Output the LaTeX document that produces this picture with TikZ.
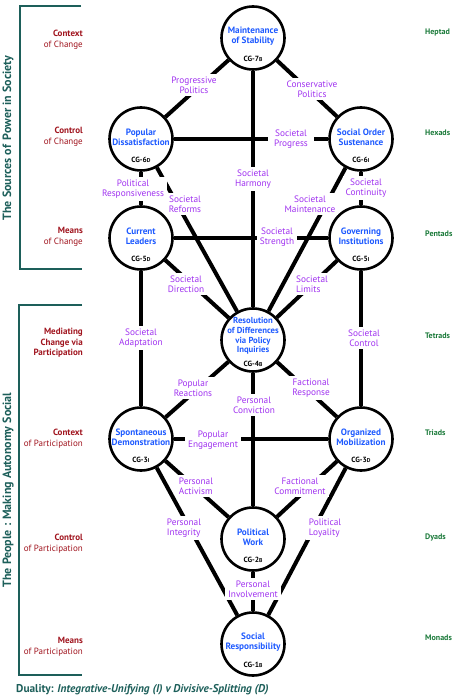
\documentclass[tikz,border=0pt]{standalone}
\usepackage{fontspec}
\setmainfont{PT Sans}
\usetikzlibrary{positioning,calc}
\definecolor{ttlblue}{RGB}{30,90,255}
\definecolor{labviolet}{RGB}{160,50,240}
\definecolor{lvlred}{RGB}{160,20,30}
\definecolor{lvlgreen}{RGB}{27,122,58}
\definecolor{brteal}{RGB}{29,95,90}
\newcommand{\cgtag}[2]{CG-#1{\fontsize{5.6}{6}\selectfont #2}}

\begin{document}
\begin{tikzpicture}[x=1pt,y=-1pt,
    cgcircle/.style={circle,draw,line width=2.6pt,minimum size=63pt,inner sep=0pt},
    ttl/.style={text=ttlblue,font=\bfseries\fontsize{9.2}{10}\selectfont,align=center,inner sep=0pt,yshift=2pt},
    cg/.style={font=\bfseries\fontsize{7.5}{8}\selectfont,inner sep=0pt,yshift=-21pt},
    edge/.style={line width=4pt},
    lab/.style={fill=white,text=labviolet,font=\fontsize{9.3}{9.8}\selectfont,align=center,inner sep=3pt},
    lvl/.style={anchor=east,text=lvlred,font=\fontsize{9}{11}\selectfont,align=right,inner sep=0pt},
    grp/.style={anchor=west,text=lvlgreen,font=\bfseries\fontsize{8}{9}\selectfont,inner sep=0pt},
    bracket/.style={draw=brteal,line width=2pt},
    side/.style={text=brteal,font=\bfseries\fontsize{12}{12}\selectfont,rotate=90,inner sep=0pt}]
  \useasboundingbox (0,0) rectangle (455,700);

  \node[cgcircle,label={[ttl]center:{Maintenance\\of Stability}},label={[cg]center:\cgtag{7}{B}}] (stab) at (253,38) {};
  \node[cgcircle,label={[ttl]center:{Popular\\Dissatisfaction}},label={[cg]center:\cgtag{6}{D}}] (dissat) at (141,139) {};
  \node[cgcircle,label={[ttl]center:{Social Order\\Sustenance}},label={[cg]center:\cgtag{6}{I}}] (order) at (361,139) {};
  \node[cgcircle,label={[ttl]center:{Current\\Leaders}},label={[cg]center:\cgtag{5}{D}}] (leaders) at (141,238) {};
  \node[cgcircle,label={[ttl]center:{Governing\\Institutions}},label={[cg]center:\cgtag{5}{I}}] (instit) at (361,238) {};
  \node[cgcircle,label={[ttl,yshift=2pt,font=\bfseries\fontsize{8.7}{9.7}\selectfont]center:{Resolution\\of Differences\\via Policy\\Inquiries}},label={[cg,yshift=-3pt]center:\cgtag{4}{B}}] (resol) at (253,340) {};
  \node[cgcircle,label={[ttl]center:{Spontaneous\\Demonstration}},label={[cg]center:\cgtag{3}{I}}] (spont) at (141,439) {};
  \node[cgcircle,label={[ttl]center:{Organized\\Mobilization}},label={[cg]center:\cgtag{3}{D}}] (mobil) at (361,439) {};
  \node[cgcircle,label={[ttl]center:{Political\\Work}},label={[cg]center:\cgtag{2}{B}}] (work) at (253,539) {};
  \node[cgcircle,label={[ttl]center:{Social\\Responsibility}},label={[cg]center:\cgtag{1}{B}}] (resp) at (253,644) {};

  \draw[edge] (stab) -- (dissat);
  \draw[edge] (stab) -- (order);
  \draw[edge] (stab) -- (resol);
  \draw[edge] (dissat) -- (order);
  \draw[edge] (dissat) -- (leaders);
  \draw[edge] (order) -- (instit);
  \draw[edge] (dissat) -- (resol);
  \draw[edge] (order) -- (resol);
  \draw[edge] (leaders) -- (instit);
  \draw[edge] (leaders) -- (resol);
  \draw[edge] (instit) -- (resol);
  \draw[edge] (leaders) -- (spont);
  \draw[edge] (instit) -- (mobil);
  \draw[edge] (resol) -- (spont);
  \draw[edge] (resol) -- (mobil);
  \draw[edge] (resol) -- (work);
  \draw[edge] (spont) -- (mobil);
  \draw[edge] (spont) -- (work);
  \draw[edge] (mobil) -- (work);
  \draw[edge] (spont) -- (resp);
  \draw[edge] (mobil) -- (resp);
  \draw[edge] (work) -- (resp);

  \node[lab] (progpol) at (194,85) {Progressive\\Politics};
  \node[lab] (conspol) at (312,89) {Conservative\\Politics};
  \node[lab] (harmony) at (253,179) {Societal\\Harmony};
  \node[lab,inner xsep=6pt] (progress) at (291,139) {Societal\\Progress};
  \node[lab] (respons) at (133,189) {Political\\Responsiveness};
  \node[lab] (continu) at (366,188) {Societal\\Continuity};
  \node[lab] (reforms) at (185,204) {Societal\\Reforms};
  \node[lab] (mainten) at (310,204) {Societal\\Maintenance};
  \node[lab] (strength) at (277,237) {Societal\\Strength};
  \node[lab] (direct) at (186,284) {Societal\\Direction};
  \node[lab,align=left] (limits) at (312,284) {Societal\\Limits};
  \node[lab] (adapt) at (141,338) {Societal\\Adaptation};
  \node[lab] (control) at (364,338) {Societal\\Control};
  \node[lab] (reacts) at (193,388) {Popular\\Reactions};
  \node[lab] (factresp) at (311,388) {Factional\\Response};
  \node[lab] (convict) at (254,405) {Personal\\Conviction};
  \node[lab] (engage) at (213,440) {Popular\\Engagement};
  \node[lab,align=left] (activ) at (196,486) {Personal\\Activism};
  \node[lab] (commit) at (300,486) {Factional\\Commitment};
  \node[lab,align=left] (integ) at (184,528) {Personal\\Integrity};
  \node[lab,align=left] (loyal) at (325,528) {Political\\Loyality};
  \node[lab] (involve) at (253,589) {Personal\\Involvement};

  \node[lvl] (ctxchg) at (83,40) {\textbf{Context}\\of Change};
  \node[lvl] (ctlchg) at (83,137) {\textbf{Control}\\of Change};
  \node[lvl] (mnschg) at (83,237) {\textbf{Means}\\of Change};
  \node[lvl,font=\bfseries\fontsize{9}{10.5}\selectfont] (medchg) at (83,343) {Mediating\\Change via\\Participation};
  \node[lvl] (ctxpart) at (83,439) {\textbf{Context}\\of Participation};
  \node[lvl] (ctlpart) at (83,544) {\textbf{Control}\\of Participation};
  \node[lvl] (mnspart) at (83,647) {\textbf{Means}\\of Participation};

  \node[grp] (heptad) at (425,33) {Heptad};
  \node[grp] (hexads) at (425,133) {Hexads};
  \node[grp] (pentads) at (425,234) {Pentads};
  \node[grp] (tetrads) at (425,336) {Tetrads};
  \node[grp] (triads) at (425,433) {Triads};
  \node[grp] (dyads) at (425,537) {Dyads};
  \node[grp] (monads) at (425,638) {Monads};

  \draw[bracket] (81,6) -- (20,6) -- (20,269) -- (82,269);
  \draw[bracket] (82,305) -- (19,305) -- (19,675) -- (82,675);
  \node[side] (srcpow) at (8,138) {The Sources of\, Power in Society};
  \node[side] (people) at (8,490) {The People : Making Autonomy Social};
  \node[anchor=west,text=brteal,font=\bfseries\fontsize{11.3}{12}\selectfont,inner sep=0pt] (duality) at (16,690) {Duality: \textit{Integrative-Unifying (I) v Divisive-Splitting (D)}};
\end{tikzpicture}
\end{document}
